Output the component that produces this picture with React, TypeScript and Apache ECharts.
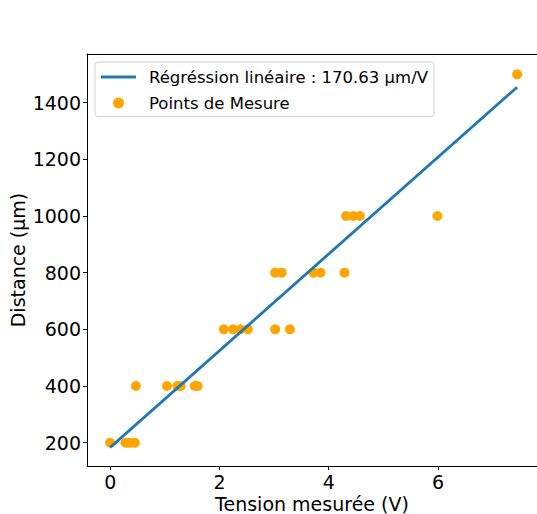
import React, { useEffect, useRef } from "react";
import * as echarts from "echarts";

const xTicks = [0, 2, 4, 6];
const yTicks = [200, 400, 600, 800, 1000, 1200, 1400];

const tension = [
  0, 0.28, 0.33, 0.38, 0.45,
  0.47, 1.04, 1.23, 1.29, 1.55, 1.6,
  2.08, 2.25, 2.38, 2.52, 3.02, 3.29,
  3.02, 3.14, 3.72, 3.85, 4.29,
  4.32, 4.45, 4.57, 5.99,
  7.45,
];
const distance = [
  200, 200, 200, 200, 200,
  400, 400, 400, 400, 400, 400,
  600, 600, 600, 600, 600, 600,
  800, 800, 800, 800, 800,
  1000, 1000, 1000, 1000,
  1500,
];

const fitX = [0, 7.45];
const fitY = [183.5, 1454.7];

const FONT = "DejaVu Sans";
const LINE_NAME = "Régréssion linéaire : 170.63 µm/V";
const PTS_NAME = "Points de Mesure";

export default function App() {
  const ref = useRef<HTMLDivElement>(null);
  useEffect(() => {
    if (!ref.current) return;
    const chart = echarts.init(ref.current, null, { renderer: "svg" });
    const axisLineStyle = { color: "#000", width: 1 };
    const fmt = (v: number) => String(v);
    chart.setOption({
      animation: false,
      backgroundColor: "#fff",
      grid: {
        left: 87, top: 54, right: 0, bottom: 48,
        containLabel: false, outerBoundsMode: "none",
      },
      legend: {
        orient: "vertical",
        left: 95,
        top: 62,
        backgroundColor: "rgba(255,255,255,0.8)",
        borderColor: "#d0d0d0",
        borderWidth: 1,
        borderRadius: 3,
        padding: [6.5, 6, 5, 6],
        itemWidth: 35,
        itemHeight: 11,
        itemGap: 9,
        symbolKeepAspect: true,
        textStyle: { fontFamily: FONT, fontSize: 16.5, color: "#000", padding: [0, 0, 0, 8] },
        data: [
          { name: LINE_NAME, icon: "path://M0,0H35V2.8H0Z", itemStyle: { color: "#1f77b4" } },
          { name: PTS_NAME, icon: "circle" },
        ],
      },
      xAxis: [
        {
          type: "value",
          min: -0.425,
          max: 7.814,
          splitLine: { show: false },
          axisLine: { show: true, onZero: false, lineStyle: axisLineStyle },
          axisTick: { show: true, length: 4, lineStyle: axisLineStyle, customValues: xTicks },
          axisLabel: {
            fontFamily: FONT, fontSize: 19, color: "#000", margin: 6,
            customValues: xTicks, formatter: fmt,
          },
          name: "Tension mesurée (V)",
          nameLocation: "middle",
          nameGap: 28,
          nameMoveOverlap: false,
          nameTextStyle: { fontFamily: FONT, fontSize: 19, color: "#000" },
        },
        {
          type: "value",
          position: "top",
          min: -0.425,
          max: 7.814,
          splitLine: { show: false },
          axisLine: { show: true, onZero: false, lineStyle: axisLineStyle },
          axisTick: { show: false },
          axisLabel: { show: false },
        },
      ],
      yAxis: {
        type: "value",
        min: 117.8,
        max: 1571.8,
        splitLine: { show: false },
        axisLine: { show: true, onZero: false, lineStyle: axisLineStyle },
        axisTick: { show: true, length: 4, lineStyle: axisLineStyle, customValues: yTicks },
        axisLabel: {
          fontFamily: FONT, fontSize: 19, color: "#000", margin: 6,
          customValues: yTicks, formatter: fmt,
        },
        name: "Distance (µm)",
        nameLocation: "middle",
        nameGap: 60,
        nameMoveOverlap: false,
        nameTextStyle: { fontFamily: FONT, fontSize: 19, color: "#000" },
      },
      series: [
        {
          name: PTS_NAME,
          type: "scatter",
          symbol: "circle",
          symbolSize: 10,
          itemStyle: { color: "#ffa500", opacity: 1 },
          data: tension.map((t, i) => [t, distance[i]]),
          z: 2,
        },
        {
          name: LINE_NAME,
          type: "line",
          symbol: "none",
          showSymbol: false,
          lineStyle: { color: "#1f77b4", width: 2.8 },
          itemStyle: { color: "#1f77b4" },
          data: fitX.map((x, i) => [x, fitY[i]]),
          z: 3,
        },
      ],
    });
    return () => chart.dispose();
  }, []);
  return (
    <div
      ref={ref}
      style={{ position: "fixed", left: 0, top: 0, width: 537, height: 514 }}
    />
  );
}
